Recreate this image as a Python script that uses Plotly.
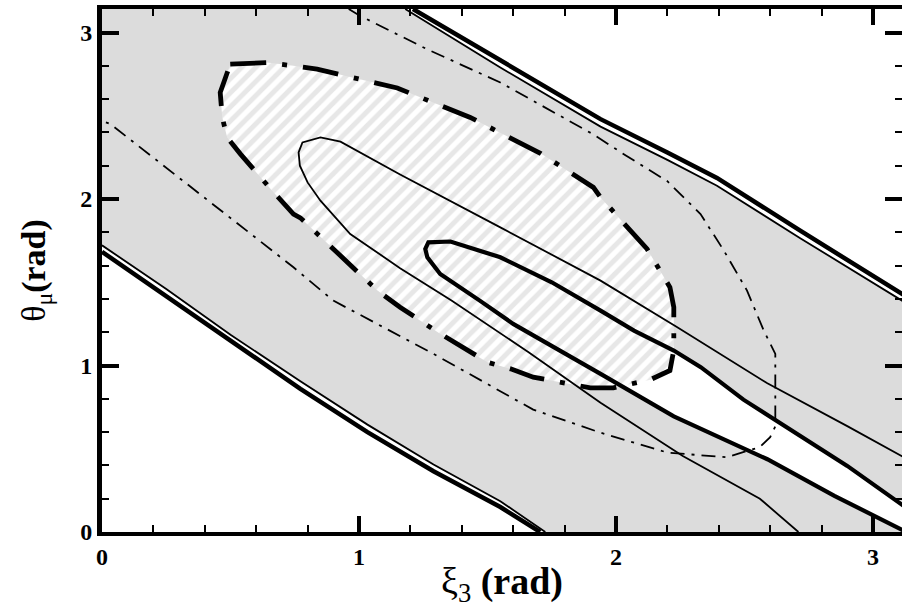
import math
import plotly.graph_objects as go

PI = math.pi
X_MAX = 3.113
PAD = 0.15

# ---- allowed band (grey) : outer thick edges and inner thin edges ----
low_outer_x = [0.0, 0.25, 0.5, 0.772, 1.033, 1.29, 1.55, 1.705]
low_outer_y = [1.683, 1.42, 1.15, 0.86, 0.60, 0.365, 0.15, 0.0]
low_inner_x = [0.0, 0.25, 0.5, 0.772, 1.033, 1.29, 1.55, 1.725]
low_inner_y = [1.722, 1.46, 1.185, 0.905, 0.645, 0.405, 0.185, 0.0]

up_outer_x = [1.21, 1.55, 1.94, 2.2, 2.393, 2.717, 3.16]
up_outer_y = [PI, 2.83, 2.48, 2.28, 2.127, 1.81, 1.385]
up_inner_x = [1.18, 1.55, 1.94, 2.2, 2.393, 2.717, 3.16]
up_inner_y = [PI, 2.79, 2.435, 2.235, 2.08, 1.765, 1.345]

# ---- thick solid contour (inner tongue) ----
tongue_x = [3.13, 3.0, 2.85, 2.589, 2.225, 1.94, 1.60, 1.47, 1.316, 1.266, 1.258,
            1.27, 1.356, 1.55, 1.75, 1.94, 2.07, 2.225, 2.33, 2.496, 2.717, 2.9, 3.13]
tongue_y = [0.0, 0.1, 0.217, 0.437, 0.695, 0.95, 1.25, 1.39, 1.55, 1.65, 1.70,
            1.74, 1.745, 1.65, 1.5, 1.33, 1.21, 1.09, 0.99, 0.795, 0.575, 0.397, 0.145]

# ---- thin solid contour ----
thin_x = [2.71, 2.56, 2.26, 1.94, 1.66, 1.36, 1.16, 0.966, 0.85, 0.80, 0.77, 0.765,
          0.78, 0.85, 0.928, 1.16, 1.55, 1.94, 2.237, 2.589, 2.9, 3.13]
thin_y = [0.0, 0.2, 0.456, 0.776, 1.08, 1.39, 1.585, 1.79, 1.99, 2.10, 2.20, 2.28,
          2.34, 2.37, 2.345, 2.147, 1.83, 1.51, 1.232, 0.893, 0.636, 0.44]

# ---- thin dash-dot contour ----
dd_x = [0.96, 1.005, 1.265, 1.55, 1.91, 2.04, 2.2, 2.329, 2.42, 2.51, 2.575, 2.62,
        2.62, 2.60, 2.56, 2.43, 2.2, 1.939, 1.678, 1.29, 0.9, 0.745, 0.033, 0.0]
dd_y = [PI, 3.10, 2.90, 2.70, 2.39, 2.26, 2.107, 1.91, 1.69, 1.45, 1.21, 1.07,
        0.635, 0.57, 0.51, 0.449, 0.477, 0.597, 0.735, 1.07, 1.39, 1.59, 2.45, 2.47]

# ---- thick dash-dot (hatched) region ----
ell_x = [0.499, 0.643, 0.745, 0.837, 1.149, 1.433, 1.706, 1.912, 1.94, 2.121, 2.21,
         2.225, 2.225, 2.21, 2.134, 1.99, 1.9, 1.678, 1.59, 1.50, 1.317, 1.16, 1.072,
         0.772, 0.745, 0.668, 0.539, 0.487, 0.468, 0.46, 0.499]
ell_y = [2.81, 2.82, 2.80, 2.78, 2.667, 2.49, 2.275, 2.07, 2.01, 1.70, 1.47,
         1.35, 1.093, 0.97, 0.915, 0.866, 0.866, 0.93, 0.98, 1.02, 1.19, 1.35, 1.45,
         1.887, 1.91, 2.04, 2.27, 2.37, 2.49, 2.64, 2.81]

x_ticks = [0, 1, 2, 3]
y_ticks = [0, 1, 2, 3]
x_tick_text = ["0", "1", "2", "3"]
y_tick_text = ["0", "1", "2", "3"]

GREY = "rgb(220,220,220)"
FONT = "Liberation Serif"

fig = go.Figure()

# grey band
band_x = low_inner_x + [X_MAX + PAD, X_MAX + PAD] + up_inner_x[::-1] + [-PAD, -PAD]
band_y = low_inner_y + [-PAD, up_inner_y[-1]] + up_inner_y[::-1] + [PI + PAD, low_inner_y[0] + 0.1]
fig.add_trace(go.Scatter(x=band_x, y=band_y, fill="toself", fillcolor=GREY,
                         mode="none", hoverinfo="skip"))

# white interior of the thick tongue
fig.add_trace(go.Scatter(x=tongue_x, y=tongue_y, fill="toself", fillcolor="white",
                         mode="none", hoverinfo="skip"))

# hatched region
fig.add_trace(go.Scatter(x=ell_x, y=ell_y, fill="toself", fillcolor="white",
                         fillpattern=dict(shape="/", bgcolor="white",
                                          fgcolor="rgb(208,208,208)", size=10,
                                          solidity=0.5),
                         mode="none", hoverinfo="skip"))

def line(x, y, w, dash="solid"):
    fig.add_trace(go.Scatter(x=x, y=y, mode="lines",
                             line=dict(color="black", width=w, dash=dash),
                             hoverinfo="skip"))

line(low_outer_x, low_outer_y, 4.5)
line(low_inner_x, low_inner_y, 1.8)
line(up_outer_x, up_outer_y, 4.5)
line(up_inner_x, up_inner_y, 1.8)
line(dd_x, dd_y, 1.8, "14px,7px,3px,7px")
line(thin_x, thin_y, 1.8)
line(tongue_x, tongue_y, 4.2)
line(ell_x, ell_y, 4.8, "36px,16px,5px,16px")

axis_common = dict(
    showgrid=False, zeroline=False, showline=True, linecolor="black",
    ticks="inside", tickcolor="black", mirror="allticks", automargin=False,
    tickfont=dict(family=FONT, size=24, color="black", weight="bold"),
)

fig.update_xaxes(range=[0, X_MAX], tickvals=x_ticks, ticktext=x_tick_text,
                 ticklen=16, tickwidth=4, linewidth=4,
                 minor=dict(dtick=0.2, tick0=0, ticks="inside", ticklen=7,
                            tickwidth=2, tickcolor="black", showgrid=False),
                 title=dict(text="ξ<sub>3</sub> <b>(rad)</b>",
                            font=dict(family=FONT, size=38, color="black"),
                            standoff=0),
                 **axis_common)
fig.update_yaxes(range=[0, PI], tickvals=y_ticks, ticktext=y_tick_text,
                 ticklen=17, tickwidth=4, linewidth=5,
                 minor=dict(dtick=0.2, tick0=0, ticks="inside", ticklen=7,
                            tickwidth=2, tickcolor="black", showgrid=False),
                 title=dict(text="θ<sub>μ</sub><b>(rad)</b>",
                            font=dict(family=FONT, size=34, color="black"),
                            standoff=26),
                 **axis_common)

fig.update_layout(width=902, height=610, showlegend=False,
                  margin=dict(l=102, r=0, t=9, b=78),
                  plot_bgcolor="white", paper_bgcolor="white")

fig.write_html("out.html", config={"displayModeBar": False},
               post_script="document.body.style.margin='0px';"
                           "document.body.style.overflow='hidden';")
